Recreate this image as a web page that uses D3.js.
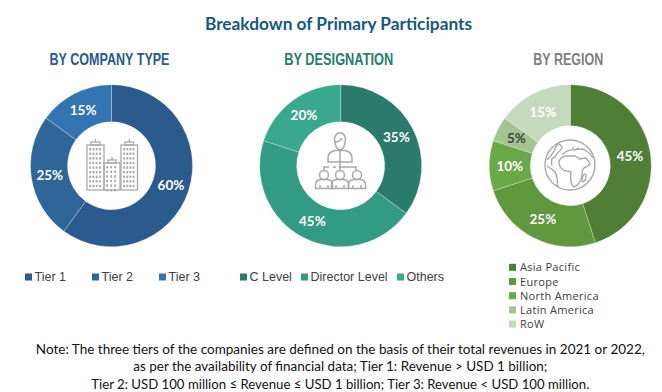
<!DOCTYPE html>
<html>
<head>
<meta charset="utf-8">
<script src="https://cdn.jsdelivr.net/npm/d3@7"></script>
<style>
  html, body { margin: 0; padding: 0; background: #fff; }
  svg { display: block; }
</style>
</head>
<body>
<div id="chartContainer"></div>
<script>
// Values
const companyLabels = ["Tier 1", "Tier 2", "Tier 3"];
const companyValues = [60, 25, 15];
const designationLabels = ["C Level", "Director Level", "Others"];
const designationValues = [35, 45, 20];
const regionLabels = ["Asia Pacific", "Europe", "North America", "Latin America", "RoW"];
const regionValues = [45, 25, 10, 5, 15];
const noteLines = [
    "Note: The three tiers of the companies are defined on the basis of their total revenues in 2021 or 2022,",
    "as per the availability of financial data; Tier 1: Revenue > USD 1 billion;",
    "Tier 2: USD 100 million \u2264 Revenue \u2264 USD 1 billion; Tier 3: Revenue < USD 100 million."
];

const companyColors = ["#2a5b8c", "#2f6699", "#3474b0"];
const designationColors = ["#2a7b6b", "#339a83", "#3aa88e"];
const regionColors = ["#4f7f35", "#5f983f", "#6aa94a", "#a3c490", "#c5d9bd"];

const width = 662;
const height = 392;
const iconGrey = "#a9a9a9";
// measured widths of the three footnote lines
const noteWidths = [609, 414, 498];

const svg = d3.create("svg")
    .attr("width", width)
    .attr("height", height)
    .attr("viewBox", [0, 0, width, height]);

svg.append("text")
    .attr("x", 338.5).attr("y", 29.5)
    .attr("text-anchor", "middle")
    .attr("font-family", "Lato")
    .attr("font-weight", 700)
    .attr("font-size", 17.3)
    .attr("fill", "#17587a")
    .text("Breakdown of Primary Participants");

// Draw one donut with its heading
function drawDonut(cx, innerRadius, title, titleWidth, titleColor, labels, values, colors) {
    const g = svg.append("g").attr("transform", `translate(${cx},165.7)`);
    const pie = d3.pie().sort(null).value(d => d.value);
    const arc = d3.arc().innerRadius(innerRadius).outerRadius(81);
    const rows = labels.map((label, i) => ({label, value: values[i], color: colors[i]}));

    g.selectAll("path")
        .data(pie(rows))
        .join("path")
        .attr("d", arc)
        .attr("fill", d => d.data.color)
        .attr("stroke", "#fff")
        .attr("stroke-opacity", 0.45)
        .attr("stroke-width", 0.6);

    g.selectAll("text")
        .data(pie(rows))
        .join("text")
        .attr("transform", d => `translate(${arc.centroid(d)})`)
        .attr("text-anchor", "middle")
        .attr("dy", "0.36em")
        .attr("font-family", "Lato")
        .attr("font-weight", 700)
        .attr("font-size", 13.5)
        .attr("fill", d => d.data.value === 5 ? "#404040" : "#fff")
        .text(d => d.data.value + "%");

    // no narrow font installed, so squeeze the bold one to the measured width
    svg.append("text")
        .attr("x", cx - 2).attr("y", 65)
        .attr("text-anchor", "middle")
        .attr("font-family", "Liberation Sans")
        .attr("font-weight", 700)
        .attr("font-size", 16.5)
        .attr("textLength", titleWidth)
        .attr("lengthAdjust", "spacingAndGlyphs")
        .attr("fill", titleColor)
        .text(title);
}

drawDonut(111.5, 44, "BY COMPANY TYPE", 120, "#2a5a8a", companyLabels, companyValues, companyColors);
drawDonut(340.7, 44, "BY DESIGNATION", 109, "#2a7b6b", designationLabels, designationValues, designationColors);
drawDonut(570.3, 40, "BY REGION", 70, "#7f7f7f", regionLabels, regionValues, regionColors);

// Horizontal legends
function drawLegend(xs, labels, colors) {
    labels.forEach((label, i) => {
        svg.append("rect")
            .attr("x", xs[i]).attr("y", 273.5)
            .attr("width", 7).attr("height", 7)
            .attr("fill", colors[i]);
        svg.append("text")
            .attr("x", xs[i] + 9.5).attr("y", 281)
            .attr("font-family", "Liberation Sans")
            .attr("font-size", 12.5)
            .attr("fill", "#404040")
            .text(label);
    });
}
drawLegend([25, 92, 159], companyLabels, companyColors);
drawLegend([240, 301, 397], designationLabels, designationColors);

// Vertical legend for the regions
regionLabels.forEach((label, i) => {
    const y = 267.3 + i * 14.2;
    svg.append("rect")
        .attr("x", 509).attr("y", y - 3.5)
        .attr("width", 7).attr("height", 7)
        .attr("fill", regionColors[i]);
    svg.append("text")
        .attr("x", 520).attr("y", y + 4)
        .attr("font-family", "Open Sans")
        .attr("font-size", 11)
        .attr("letter-spacing", 0.3)
        .attr("fill", "#404040")
        .text(label);
});

// Footnote
svg.append("g").selectAll("text")
    .data(noteLines)
    .join("text")
    .attr("x", 340.3)
    .attr("y", (d, i) => 353.5 + i * 17.5)
    .attr("text-anchor", "middle")
    .attr("font-family", "Lato")
    .attr("font-size", 13.5)
    .attr("textLength", (d, i) => noteWidths[i])
    .attr("lengthAdjust", "spacingAndGlyphs")
    .attr("fill", "#111")
    .text(d => d);

// Centre icons
const buildings = svg.append("g").attr("fill", "none").attr("stroke", iconGrey).attr("stroke-width", 1.3);
[[87, 145, 17, 4, 9], [104, 163, 16, 3, 6], [121, 145, 16.5, 4, 9]].forEach(([x, y, w, cols, rows]) => {
    buildings.append("rect").attr("x", x).attr("y", y).attr("width", w).attr("height", 190 - y);
    buildings.append("rect").attr("x", x + 4).attr("y", y - 3).attr("width", w - 8).attr("height", 3);
    buildings.append("line").attr("x1", x + w / 2).attr("x2", x + w / 2).attr("y1", y - 3).attr("y2", y - 6);
    for (let c = 0; c < cols; c++) {
        for (let r = 0; r < rows; r++) {
            buildings.append("rect")
                .attr("x", x + 2.2 + c * (w - 4) / cols)
                .attr("y", y + 3 + r * 4.6)
                .attr("width", 1.9).attr("height", 2.4)
                .attr("fill", iconGrey).attr("stroke", "none");
        }
    }
});

const people = svg.append("g")
    .attr("transform", "translate(340,165)")
    .attr("fill", "none").attr("stroke", iconGrey).attr("stroke-width", 1.5);
people.append("path").attr("d", "M-5,-23 a5.5,6.5 0 1 1 10,0 q-.5,7 -5,8 q-4.500,-1 -5,-8 z M-5,-23 q5,0 7,-4");
people.append("path").attr("d", "M-12,-3 v-4 q0,-6 7,-7.500 h10 q7,1.500 7,7.500 v4 z M0,-14 v11");
people.append("path").attr("d", "M-16,5 v-3 h5 M-7,2 h3 M-1,2 h17 v3 M0,-3 v9");
[-16, 0, 17].forEach(dx => {
    const p = people.append("g").attr("transform", `translate(${dx},0)`);
    p.append("circle").attr("cy", 10).attr("r", 4.5);
    p.append("path").attr("d", "M-8.500,23.500 v-3.500 q0,-5 5,-5.500 h7 q5,.5 5,5.500 v3.500 z M-4,23 v-3 M4,23 v-3");
});

const globe = svg.append("g")
    .attr("transform", "translate(570,165)")
    .attr("fill", "none").attr("stroke", iconGrey).attr("stroke-width", 1.4);
globe.append("circle").attr("r", 25);
// americas
globe.append("path").attr("d", "M-23,-5 q5,-5 7,-9 q2,-5 4,-7.500 q3,1 4,4 q-2,4 -5,6 q-1,4 -5,5 q-1,3 0,7");
globe.append("path").attr("d", "M-23,1 q5,3 8,6 q2,3 2,6 q1,4 0,8");
// eurasia
globe.append("path").attr("d", "M-8,-10 q6,-6 12,-5 q7,-2 11,0 q5,3 8,8");
// africa
globe.append("path").attr("d", "M-11,-4 q2,-4 7,-5 q5,0 9,0 q3,2 5,3 q4,-1 6,-1 q3,4 4,6 q-3,3 -6,4 q-2,2 -2,7 q0,4 -3,8 q-2,3 -5,4 q-3,-2 -3,-6 q-1,-3 0,-9 q-4,-1 -7,-1.500 q-5,-3 -5,-8.500 z");
globe.append("path").attr("d", "M2,-17 h2 M7,-16.500 h2");
globe.append("ellipse").attr("cx", 14).attr("cy", 13).attr("rx", 1.6).attr("ry", 4).attr("transform", "rotate(15 14 13)");

document.getElementById("chartContainer").appendChild(svg.node());
</script>
</body>
</html>
